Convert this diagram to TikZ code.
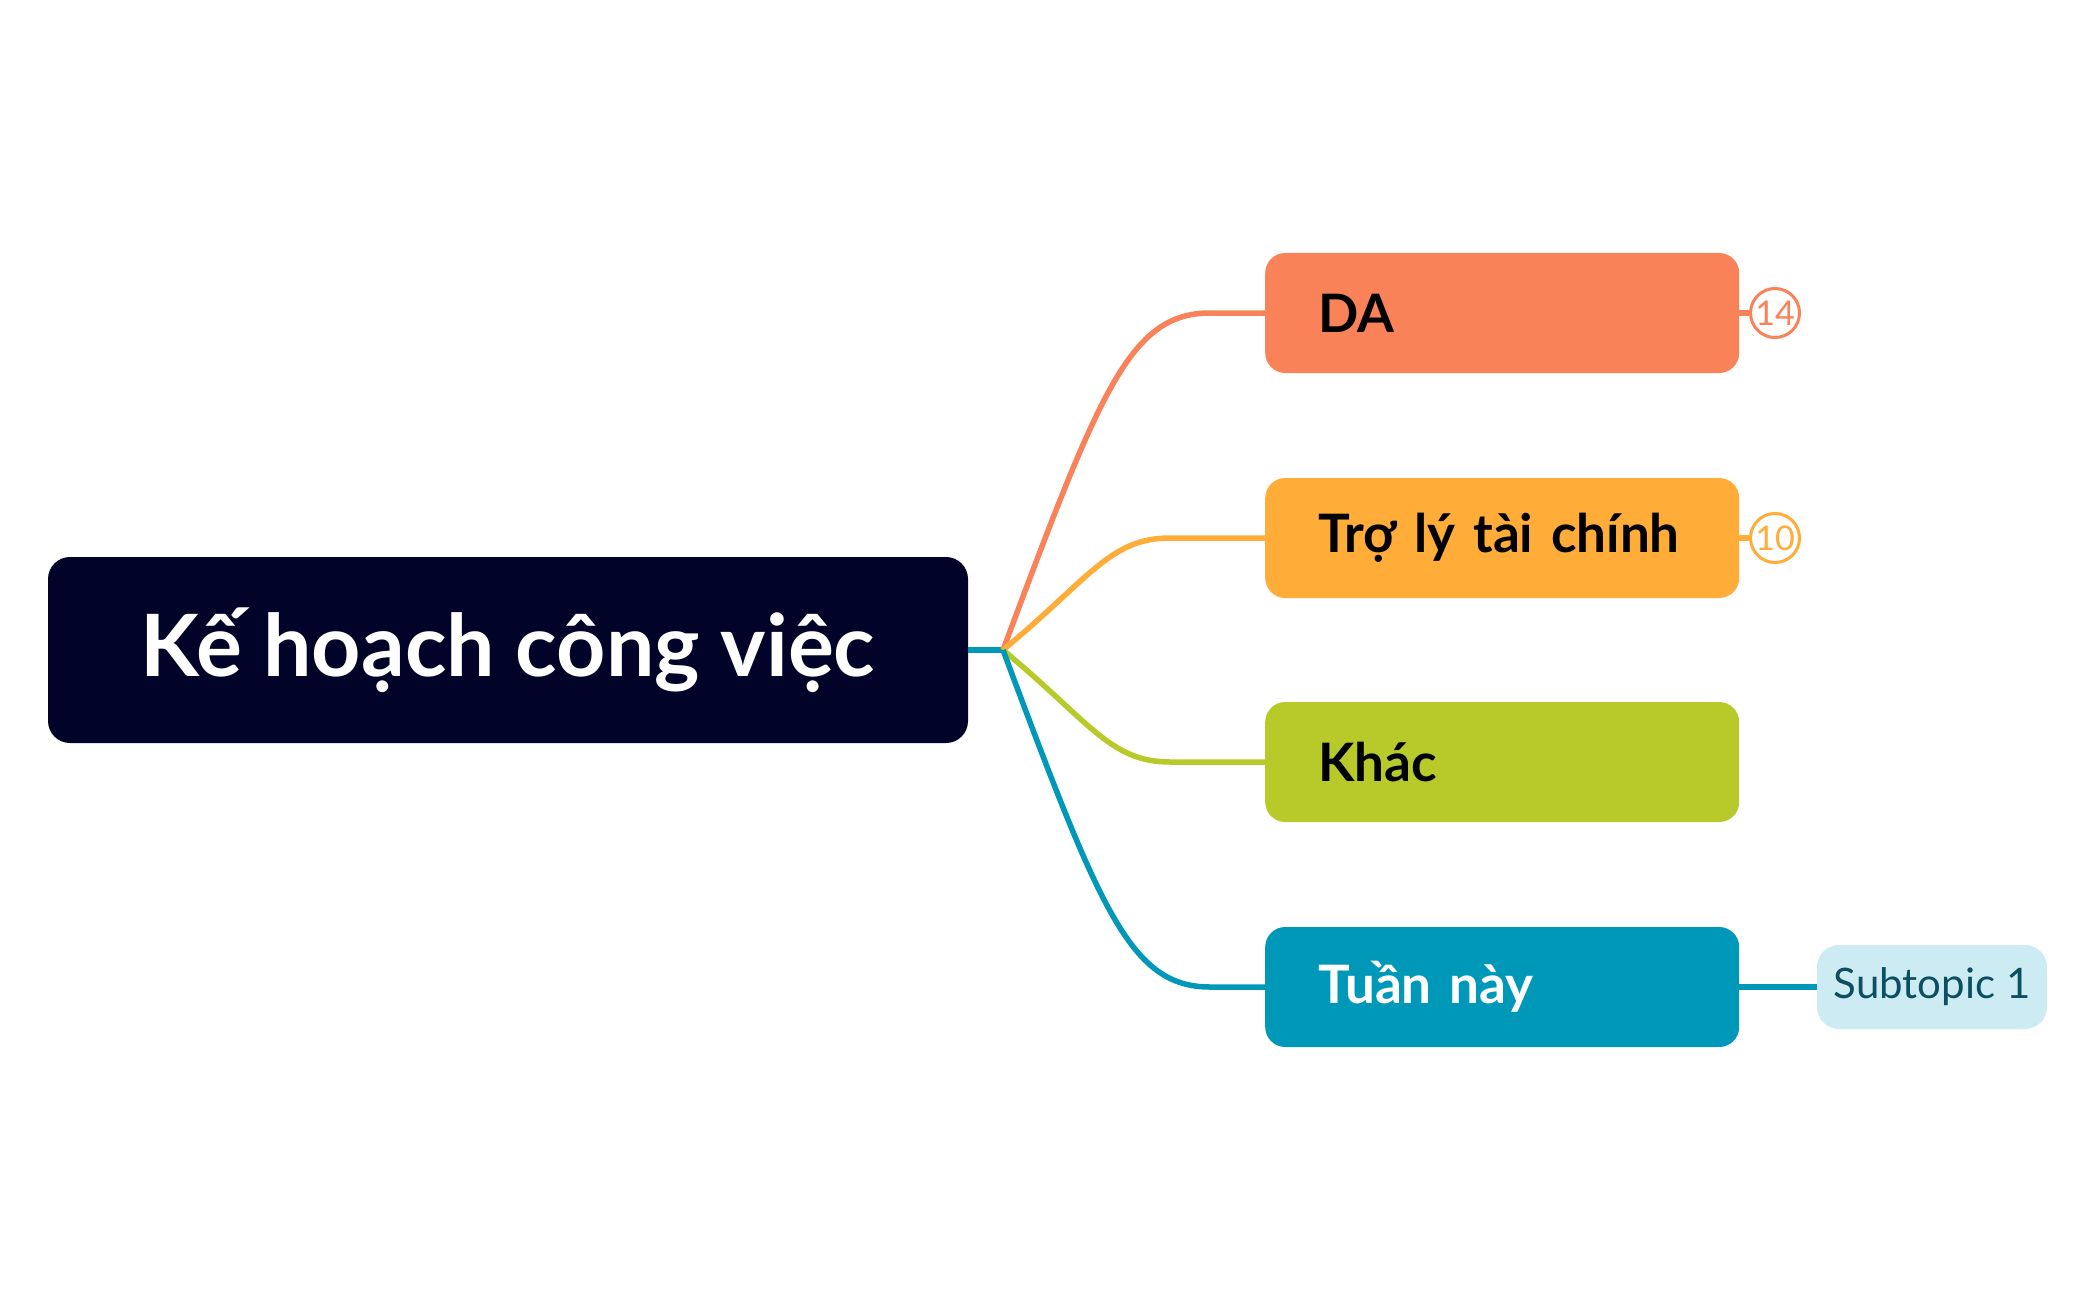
\documentclass[tikz,border=0pt]{standalone}
\usepackage{fontspec}
\setmainfont{Lato}
\usepackage{tikz}
\definecolor{rootbg}{HTML}{020328}
\definecolor{daorange}{HTML}{FA8258}
\definecolor{tlyellow}{HTML}{FFAC38}
\definecolor{khgreen}{HTML}{B8C92A}
\definecolor{tnblue}{HTML}{0098B9}
\definecolor{subbg}{HTML}{CDEBF2}
\definecolor{subtext}{HTML}{0A4F62}

\begin{document}
\begin{tikzpicture}[x=1pt, y=-1pt,
    topic/.style={rectangle, rounded corners=20pt, anchor=west, minimum height=120pt,
      text width=368pt, inner xsep=53pt, inner ysep=0pt, align=left,
      font=\fontsize{53}{60}\selectfont\bfseries},
    branch/.style={line width=5.5pt},
    badge/.style={circle, draw, fill=white, line width=3pt, minimum size=49pt,
      inner sep=0pt, font=\fontsize{34}{36}\selectfont}]
    \useasboundingbox (0,0) rectangle (2094,1300);

    \node [rectangle, rounded corners=22pt, fill=rootbg, text=white, minimum width=920pt,
      minimum height=186pt, font=\fontsize{86}{96}\selectfont\bfseries] (root) at (508,650) {Kế hoạch công việc};
    \coordinate (hub) at (1003,650);

    \node [topic, fill=daorange]          (da)      at (1265,313) {DA};
    \node [topic, fill=tlyellow]          (troly)   at (1265,538) {Trợ lý tài chính};
    \node [topic, fill=khgreen]           (khac)    at (1265,762) {Khác};
    \node [topic, fill=tnblue, text=white] (tuannay) at (1265,987) {Tuần này};

    \node [badge, draw=daorange, text=daorange] (cnt14) at (1775,313) {14};
    \node [badge, draw=tlyellow, text=tlyellow] (cnt10) at (1775,538) {10};

    \node [rectangle, rounded corners=22pt, fill=subbg, text=subtext, minimum width=230pt,
      minimum height=84pt, font=\fontsize{42}{48}\selectfont] (sub) at (1932,987) {Subtopic 1};

    % Now draw the lines:
    \draw [branch, tnblue] (root.east) -- (hub);
    \draw [branch, daorange] (hub) .. controls (1100,390) and (1130,313) .. (1210,313) -- (da.west);
    \draw [branch, tlyellow] (hub) .. controls (1090,578) and (1110,538) .. (1170,538) -- (troly.west);
    \draw [branch, khgreen] (hub) .. controls (1090,722) and (1110,762) .. (1170,762) -- (khac.west);
    \draw [branch, tnblue] (hub) .. controls (1100,910) and (1130,987) .. (1210,987) -- (tuannay.west);

    \draw [branch, daorange] (da.east) -- (cnt14);
    \draw [branch, tlyellow] (troly.east) -- (cnt10);
    \draw [branch, tnblue] (tuannay.east) -- (sub);
\end{tikzpicture}
\end{document}
